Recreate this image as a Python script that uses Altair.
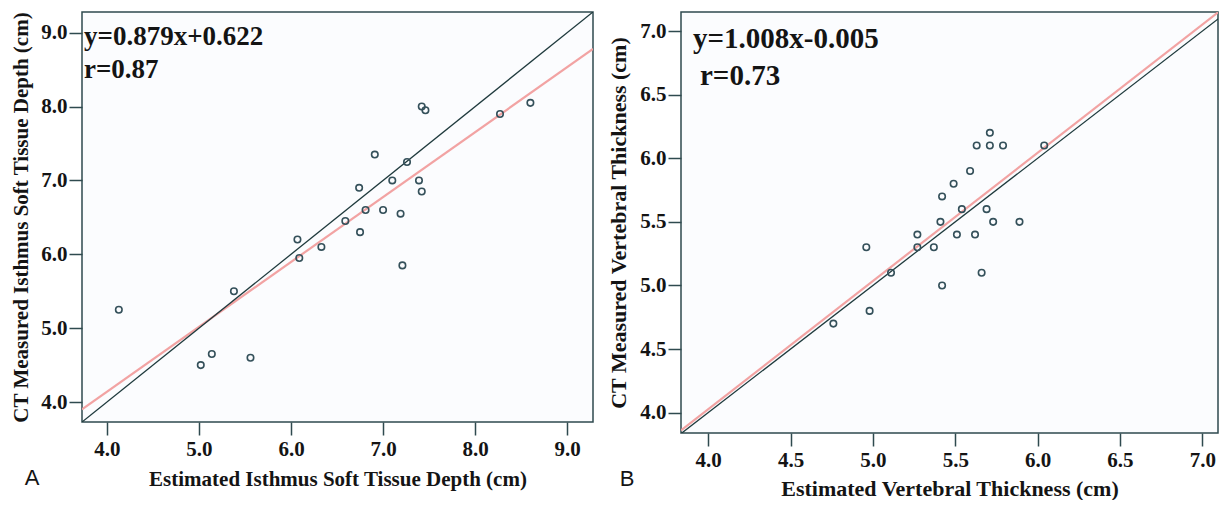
import altair as alt
import pandas as pd

# ---- data ----
left_x = [4.13, 5.02, 5.14, 5.38, 5.56, 6.07, 6.09, 6.33, 6.59, 6.74, 6.75, 6.81,
          6.91, 7.00, 7.10, 7.19, 7.21, 7.26, 7.39, 7.42, 7.42, 7.46, 8.27, 8.60]
left_y = [5.25, 4.50, 4.65, 5.50, 4.60, 6.20, 5.95, 6.10, 6.45, 6.90, 6.30, 6.60,
          7.35, 6.60, 7.00, 6.55, 5.85, 7.25, 7.00, 6.85, 8.00, 7.95, 7.90, 8.05]
right_x = [4.76, 4.96, 4.98, 5.11, 5.27, 5.27, 5.37, 5.41, 5.42, 5.42, 5.49, 5.51,
           5.54, 5.59, 5.62, 5.63, 5.66, 5.69, 5.71, 5.71, 5.73, 5.79, 5.89, 6.04]
right_y = [4.70, 5.30, 4.80, 5.10, 5.40, 5.30, 5.30, 5.50, 5.70, 5.00, 5.80, 5.40,
           5.60, 5.90, 5.40, 6.10, 5.10, 5.60, 6.20, 6.10, 5.50, 6.10, 5.50, 6.10]

left_ticks = [4.0, 5.0, 6.0, 7.0, 8.0, 9.0]
right_ticks = [4.0, 4.5, 5.0, 5.5, 6.0, 6.5, 7.0]
left_xdomain = [3.73, 9.28]
left_ydomain = [3.73, 9.28]
right_xdomain = [3.835, 7.095]
right_ydomain = [3.84, 7.15]
left_fit = (0.879, 0.622)
right_fit = (1.008, -0.005)
left_eq = ["y=0.879x+0.622", "r=0.87"]
right_eq = ["y=1.008x-0.005", "r=0.73"]
left_xtitle = "Estimated Isthmus Soft Tissue Depth (cm)"
left_ytitle = "CT Measured Isthmus Soft Tissue Depth (cm)"
right_xtitle = "Estimated Vertebral Thickness (cm)"
right_ytitle = "CT Measured Vertebral Thickness (cm)"

SERIF = "Liberation Serif"
SANS = "Liberation Sans"
FRAME = "#2f4a4f"
INK = "#141414"


def axis(ticks, title, orient, label_size, title_size, x_title_pad):
    return alt.Axis(
        values=ticks, format=".1f", title=title, grid=False, domain=False,
        tickSize=13, tickColor=FRAME, tickWidth=1.5,
        labelFont=SERIF, labelFontWeight="bold", labelFontSize=label_size, labelColor=INK,
        labelPadding=2 if orient == "y" else 3,
        titleFont=SERIF, titleFontWeight="bold", titleFontSize=title_size, titleColor=INK,
        titlePadding=9 if orient == "y" else x_title_pad,
    )


def panel(xs, ys, ticks, xdomain, ydomain, fit, eq, xtitle, ytitle, letter, w, h,
          eq_dx, eq_y, r_dx, r_y, letter_x, letter_y, label_size, title_size,
          eq_size, x_title_pad):
    pts = pd.DataFrame({"x": xs, "y": ys})
    lo = min(xdomain[0], ydomain[0])
    hi = max(xdomain[1], ydomain[1])
    lines = pd.DataFrame({
        "x": [lo, hi, lo, hi],
        "y": [lo, hi, fit[0] * lo + fit[1], fit[0] * hi + fit[1]],
        "line": ["identity", "identity", "fit", "fit"],
    })
    sx = alt.Scale(domain=xdomain, nice=False, zero=False)
    sy = alt.Scale(domain=ydomain, nice=False, zero=False)
    X = alt.X("x:Q", scale=sx, axis=axis(ticks, xtitle, "x", label_size, title_size, x_title_pad))
    Y = alt.Y("y:Q", scale=sy, axis=axis(ticks, ytitle, "y", label_size, title_size, x_title_pad))

    fit_line = alt.Chart(lines).transform_filter(alt.datum.line == "fit").mark_line(
        color="#f2a3a3", strokeWidth=2.2, clip=True).encode(x=X, y=Y)
    id_line = alt.Chart(lines).transform_filter(alt.datum.line == "identity").mark_line(
        color="#1f3a3d", strokeWidth=1.3, clip=True).encode(x=X, y=Y)
    scatter = alt.Chart(pts).mark_point(
        shape="circle", filled=False, size=42, strokeWidth=1.6, color="#34505a", opacity=1
    ).encode(x=X, y=Y)

    t1 = alt.Chart(pd.DataFrame({"t": [eq[0]]})).mark_text(
        font=SERIF, fontWeight="bold", fontSize=eq_size, align="left", baseline="alphabetic", color=INK
    ).encode(text="t:N", x=alt.value(eq_dx), y=alt.value(eq_y))
    t2 = alt.Chart(pd.DataFrame({"t": [eq[1]]})).mark_text(
        font=SERIF, fontWeight="bold", fontSize=eq_size, align="left", baseline="alphabetic", color=INK
    ).encode(text="t:N", x=alt.value(r_dx), y=alt.value(r_y))
    lab = alt.Chart(pd.DataFrame({"t": [letter]})).mark_text(
        font=SANS, fontSize=22, align="center", baseline="alphabetic", color=INK
    ).encode(text="t:N", x=alt.value(letter_x), y=alt.value(letter_y))

    return alt.layer(fit_line, id_line, scatter, t1, t2, lab).properties(width=w, height=h)


left = panel(left_x, left_y, left_ticks, left_xdomain, left_ydomain, left_fit, left_eq,
             left_xtitle, left_ytitle, "A", 511, 410,
             2, 33, 2, 66, -50, 473, 21, 21, 27, 9)
right = panel(right_x, right_y, right_ticks, right_xdomain, right_ydomain, right_fit, right_eq,
              right_xtitle, right_ytitle, "B", 537, 421,
              12, 36, 19, 73, -54, 474, 21, 22, 29, 8)

chart = alt.hconcat(left, right, spacing=13).properties(
    padding={"left": 2, "top": 2, "right": 0, "bottom": 0},
    background="white",
).configure_view(stroke=FRAME, strokeWidth=1.5, fill="#fbfcfe")

chart.save("out.html", embed_options={"renderer": "svg", "actions": False})
